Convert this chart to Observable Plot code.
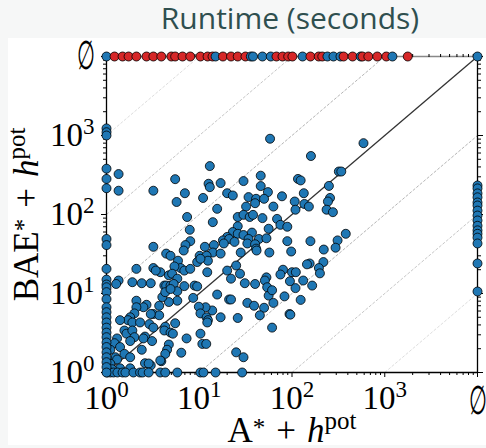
<!DOCTYPE html>
<html><head><meta charset="utf-8">
<script src="https://cdn.jsdelivr.net/npm/d3@7"></script>
<script src="https://cdn.jsdelivr.net/npm/@observablehq/plot@0.6"></script>
<style>
html,body{margin:0;padding:0;background:#f6f7f7;}
#page{position:relative;width:486px;height:448px;overflow:hidden;}
#title{position:absolute;left:290px;top:0;transform:translateX(-50%);white-space:nowrap;
  font-family:"Open Sans",sans-serif;font-size:30px;line-height:36px;color:#2f4f4f;}
#panel{position:absolute;left:8px;top:38px;width:478px;height:407px;background:#fff;}
#panel svg{position:absolute;left:0;top:0;}
</style></head>
<body><div id="page"><div id="title">Runtime (seconds)</div><div id="panel"></div></div>
<script>
// ---- data (seconds) ----
const UNSOLVED = 1e4; // where "∅" sits on both axes
const majorTicks = [1, 10, 100, 1000, UNSOLVED];
const tickLabels = ["10^0", "10^1", "10^2", "10^3", "∅"];
const minorMultipliers = [2, 3, 4, 5, 6, 7, 8, 9];
const xLabel = "A* + h^pot";
const yLabel = "BAE* + h^pot";

// instances solved by both: A* + hpot time, BAE* + hpot time
const bothA = [58,590,160,13,1.35,5.5,12.6,13,17,30,46,116,124,320,340,250,1.35,3.2,7.0,5.7,
 11,20,23,34,46,55,41,50,40,78,63,107,134,136,152,109,257,244,236,276,
 15.6,7.4,32,26,30,35,38,48,69,75,89,56,14,7.9,26,23,26,30,37,20,
 18,21,24,44,53,34,33,40,89,158,380,310,295,220,3.2,8.0,7.1,6.8,11.5,14.4,
 14,18.4,17,28,41,41.5,57,98,10.1,12,4.4,4.9,12.4,5.9,6.3,2.1,3.2,5.4,6.9,8.0,
 4.7,5.1,5.8,3.8,3.4,9.5,10.3,12.2,25,20,27.5,80,100,110,155,145,218,195,200,1.35,
 1.27,1.9,2.4,3.0,4.2,4.4,4.9,5.3,5.8,6.9,8.9,9.5,15.6,22,31,40,53,51,54,56,
 61,75,95,109,132,165,83,63,124,21,22,33,39,50,45,94,96,61,26,17,
 13.8,11.7,9.9,10.3,12,12.4,12.2,8.6,5.8,4.7,4.0,3.7,4.3,4.9,2.1,2.7,2.5,3.2,3.7,3.0,
 2.1,2.0,1.8,1.7,1.9,1.4,2.3,2.9,3.2,4.3,4.2,5.5,4.9,5.2,1.56,1.64,1.9,2.0,1.8,2.6,
 2.5,3.1,1.3,1.22,1.4,1.1,1.25,1.3,1.1,1.56,1.8,2.4,4.7,4.5,4.3,3.9,6.4,7.3,10.3,10.8,
 11.9,25,30,2.6,3.0,1.8,1.4,1.15,2.85,3.8,
 1.02,1.1,1.19,1.31,1.49,1.6,1.95,2.3,2.45,2.85,3.8,4.3,5.8,10.3,11.1,15,29,
 1,1,1,1,1,1,1,1,1,1,1,1,1,1,1,1,1,1,1,1,1,1,1,1,1,1,1,1];
const bothB = [910,800,550,410,325,280,245,222,250,265,310,282,270,350,350,230,200,200,186,144,
 162,186,174,166,229,192,158,158,139,170,126,146,186,136,126,115,162,146,115,107,
 118,93,126,93,99,93,99,90,88,74,70,66,80,64,71,60,57,55,59,52,
 47,49,45,49,50,49,43,42,46,46,57,47,38,36,39,46,41,35,39,41,
 33,43,32,33,37,35,33,34,30,30,32,30,26,26,21,20.5,21,22,19.5,20.5,
 17,17.8,15.4,18.6,19.5,25,27.5,18.6,22.6,19.5,17.8,20,18.6,18.6,24,23.4,25,21,18,14.6,
 13.2,13.9,13.5,13.5,12.6,12.6,12.6,13.2,10.7,12.4,12.6,12.3,9.7,15.4,13.5,13.2,16,14.6,12,9.4,
 11,17.4,14.3,11.7,14.6,12.6,9.2,7.6,8.3,8.4,8.4,7.6,7.0,6.6,5.3,5.5,5.4,3.7,4.9,5.0,
 6.1,6.7,6.8,5.6,5.0,4.6,4.3,8.8,8.1,7.8,9.0,7.0,10.4,11.4,8.1,7.2,6.7,5.5,5.3,5.5,
 6.7,5.6,5.0,4.6,4.3,4.6,4.3,4.1,3.7,3.8,3.4,4.2,3.2,3.1,3.4,3.1,3.4,2.8,2.5,2.85,
 2.7,2.5,2.7,2.35,2.1,1.94,1.56,1.46,1.29,1.72,1.56,1.94,2.26,1.94,1.72,1.39,1.78,2.7,3.1,2.3,
 2.3,1.8,1.56,1.31,1.23,1.13,1.13,1.1,1.3,1.42,
 1,1,1,1,1,1,1,1,1,1,1,1,1,1,1,1,1,
 1230,1100,1000,380,282,215,49,41,20.5,15,13,12,10.4,8.5,6.7,5.8,5.0,4.3,3.7,3.2,2.8,2.4,2.1,1.8,1.56,1.35,1.17,1.0];

// solved by A* + hpot only (BAE* = ∅)
const onlyA = [1,1.22,1.49,1.73,2.1,2.7,3.2,3.9,5.0,5.5,6.6,8.0,10.3,12.3,13.9,15,18,22,26,31.5,
 36,38,48,59,68,79,91,101,130,158,194,212,241,280,333,360,450,550,575,665,830,1040,1210,1770];
const onlyAGroup = ["b","r","r","r","r","r","r","r","r","r","r","r","r","r","r","b","r","r","r","r",
 "b","b","b","b","r","r","r","r","b","r","r","r","b","b","b","r","r","b","r","r","r","r","b","r"];
// solved by BAE* + hpot only (A* = ∅)
const onlyB = [233,214,185,165,142,130,112,97,84,72,63,57,51,43,24,10.6];
// solved by neither
const neitherCount = 1;

// ---- build table ----
const BLUE = "#1f77b4", RED = "#d62728";
const points = [
  ...bothA.map((a, i) => ({a, b: bothB[i], fill: BLUE})),
  ...onlyB.map(b => ({a: UNSOLVED, b, fill: BLUE})),
  ...onlyA.map((a, i) => ({a, b: UNSOLVED, fill: onlyAGroup[i] === "r" ? RED : BLUE})),
  ...Array.from({length: neitherCount}, () => ({a: UNSOLVED, b: UNSOLVED, fill: BLUE}))
];
const minorTicks = majorTicks.slice(0, 4).flatMap(p => minorMultipliers.map(m => m * p));
const fmt = d => tickLabels[majorTicks.indexOf(d)] ?? "";

// reference lines y = 10^k x, clipped to the domain
const offsets = [1, 2, 3, -1, -2, -3];
const guide = offsets.map(k => k > 0
  ? {x1: 1, y1: 10 ** k, x2: UNSOLVED / 10 ** k, y2: UNSOLVED, k}
  : {x1: 10 ** -k, y1: 1, x2: UNSOLVED, y2: UNSOLVED * 10 ** k, k});
const guideOpacity = {1: 0.55, 2: 0.42, 3: 0.25};

const plot = Plot.plot({
  width: 478, height: 410,
  marginLeft: 98, marginRight: 9, marginTop: 18, marginBottom: 76,
  style: {fontFamily: "'Liberation Serif', serif", fontSize: "33px", background: "transparent", overflow: "visible", color: "black"},
  x: {type: "log", domain: [1, UNSOLVED], axis: null},
  y: {type: "log", domain: [1, UNSOLVED], axis: null},
  marks: [
    Plot.link(guide, {x1: "x1", y1: "y1", x2: "x2", y2: "y2", stroke: "#777",
      strokeOpacity: d => guideOpacity[Math.abs(d.k)], strokeDasharray: "3,1.6", strokeWidth: 1}),
    Plot.link([{x1: 1, y1: 1, x2: UNSOLVED, y2: UNSOLVED}], {x1: "x1", y1: "y1", x2: "x2", y2: "y2", stroke: "#333", strokeWidth: 1.3}),
    Plot.ruleY([UNSOLVED], {stroke: "#888", strokeWidth: 1.6}),
    Plot.ruleX([1], {stroke: "black", strokeWidth: 1.3}),
    Plot.ruleY([1], {stroke: "black", strokeWidth: 1.3}),
    Plot.ruleX([UNSOLVED], {stroke: "black", strokeWidth: 1.3}),
    Plot.axisX({anchor: "bottom", ticks: majorTicks, tickSize: 5, tickPadding: 8, tickFormat: fmt, label: null}),
    Plot.axisX({anchor: "bottom", ticks: minorTicks, tickSize: 3, tickFormat: () => "", label: null}),
    Plot.axisX({anchor: "top", ticks: majorTicks, tickSize: 5, tickFormat: () => "", label: null}),
    Plot.axisX({anchor: "top", ticks: minorTicks, tickSize: 3, tickFormat: () => "", label: null}),
    Plot.axisY({anchor: "left", ticks: majorTicks, tickSize: 5, tickPadding: 7, tickFormat: fmt, label: null}),
    Plot.axisY({anchor: "left", ticks: minorTicks, tickSize: 3, tickFormat: () => "", label: null}),
    Plot.axisY({anchor: "right", ticks: majorTicks, tickSize: 5, tickFormat: () => "", label: null}),
    Plot.axisY({anchor: "right", ticks: minorTicks, tickSize: 3, tickFormat: () => "", label: null}),
    Plot.dot(points, {x: "a", y: "b", r: 4.5, fill: "fill", stroke: "black", strokeWidth: 0.8}),
    Plot.text([xLabel], {frameAnchor: "bottom", lineAnchor: "bottom", textAnchor: "middle", dy: 69, fontSize: 35}),
    Plot.text([yLabel], {frameAnchor: "left", lineAnchor: "bottom", textAnchor: "middle", rotate: -90, dx: -69, fontSize: 35})
  ]
});

// LaTeX-like superscripts / italics as real tspans
const NS = "http://www.w3.org/2000/svg";
function rich(t, parts) {
  t.textContent = "";
  for (const [s, o = {}] of parts) {
    const ts = document.createElementNS(NS, "tspan");
    ts.textContent = s;
    if (o.size) ts.setAttribute("font-size", o.size);
    if (o.dy) ts.setAttribute("dy", o.dy);
    if (o.dx) ts.setAttribute("dx", o.dx);
    if (o.it) ts.setAttribute("font-style", "italic");
    t.appendChild(ts);
  }
}
plot.querySelectorAll("text").forEach(t => {
  const s = t.textContent;
  const m = s.match(/^10\^(\d)$/);
  if (m) rich(t, [["10"], [m[1], {size: "23px", dy: "-12"}]]);
  else if (s === "∅") {
    t.setAttribute("font-size", "40px");
    t.setAttribute("font-family", "'DejaVu Sans', sans-serif");
    t.setAttribute("font-weight", "200");
    t.setAttribute("textLength", "18");
    t.setAttribute("lengthAdjust", "spacingAndGlyphs");
  }
  else if (s === xLabel || s === yLabel) {
    const base = s.split("*")[0];
    rich(t, [[base], ["*", {size: "25px", dy: "-6"}], ["+", {dy: "6", dx: "11"}],
      ["h", {it: true, dx: "11"}], ["pot", {size: "25px", dy: "-13"}]]);
  }
});
document.getElementById("panel").appendChild(plot);
</script></body></html>
